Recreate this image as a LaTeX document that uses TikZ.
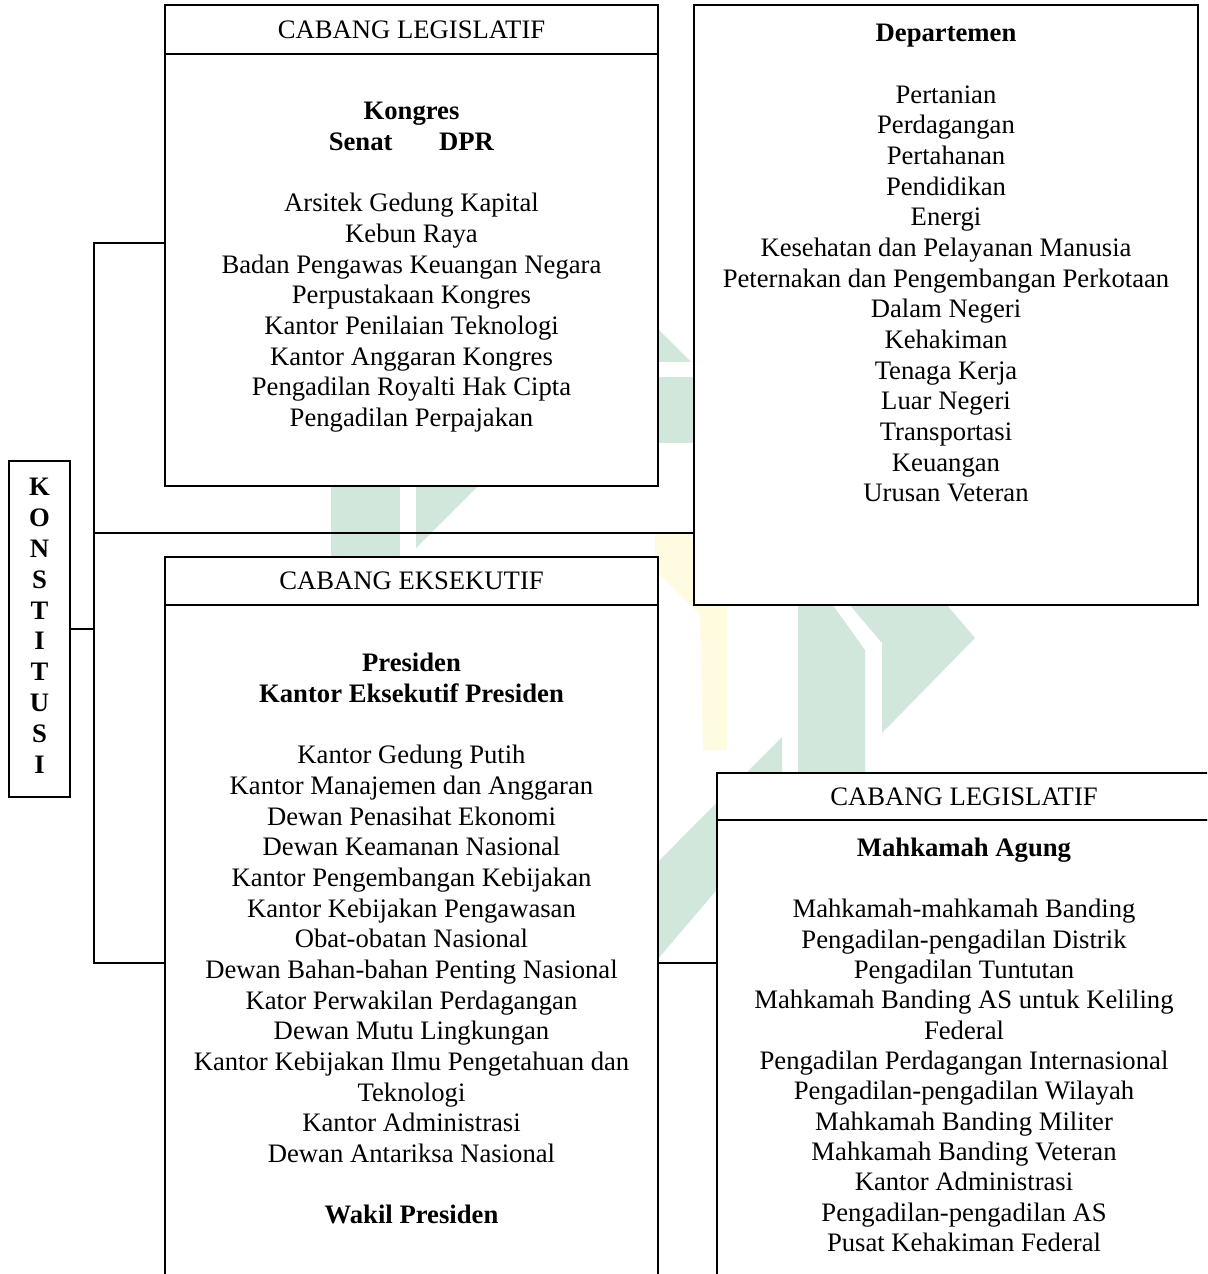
\documentclass[tikz,border=0pt]{standalone}
\usepackage{fontspec}
\setmainfont{Liberation Serif}
\usetikzlibrary{fit}
\definecolor{wmgreen}{RGB}{210,231,220}
\definecolor{wmyellow}{RGB}{255,251,224}
\begin{document}
\begin{tikzpicture}[x=0.45pt,y=-0.45pt,
  frame/.style={draw, line width=0.9pt, fill=white, inner sep=0pt},
  txt/.style={align=center, inner sep=0pt, anchor=north,
              font=\fontsize{12}{13.8}\selectfont},
  hdrtxt/.style={inner sep=0pt, anchor=center,
              font=\fontsize{12}{13.8}\selectfont},
  wire/.style={line width=0.9pt},
  wmg/.style={fill=wmgreen, draw=none},
  wmy/.style={fill=wmyellow, draw=none}]
\clip (0,0) rectangle (1207,1274);
\fill[white] (0,0) rectangle (1207,1274);

% faint background emblem
\path[wmg] (331,470) -- (400,470) -- (400,570) -- (331,570) -- cycle;
\path[wmg] (416,470) -- (494,470) -- (416,548) -- cycle;
\path[wmg] (630,301) -- (691,362) -- (630,362) -- cycle;
\path[wmg] (630,377) -- (694,377) -- (694,443) -- (630,443) -- cycle;
\path[wmy] (655,533) -- (688,533) -- (727,605) -- (727,750) -- (703,750)
           -- (700,615) -- (655,570) -- cycle;
\path[wmg] (798,590) -- (822,590) -- (865,650) -- (865,780) -- (798,780) -- cycle;
\path[wmg] (837,590) -- (934,590) -- (975,638) -- (882,733) -- (882,643) -- cycle;
\path[wmg] (640,880) -- (782,737) -- (782,813) -- (640,980) -- cycle;

% trunk points
\coordinate (tTop) at (94,243);
\coordinate (tMid) at (94,533);
\coordinate (tBot) at (94,963);

% boxes
\node[frame, fit={(9,461) (70,797)}] (kons) {};

\node[frame, fit={(165,5) (658,54)}] (legHead) {};
\node[frame, fit={(165,54) (658,486)}] (legBody) {};

\node[frame, fit={(694,5) (1198,605)}] (depBox) {};

\node[frame, fit={(165,557) (658,605)}] (eksHead) {};
\node[frame, fit={(165,605) (658,1300)}] (eksBody) {};

\node[frame, fit={(717,773) (1212,820)}] (judHead) {};
\node[frame, fit={(717,820) (1212,1300)}] (judBody) {};

% connectors
\draw[wire] (kons.east) -- (kons.east -| tTop);
\draw[wire] (tTop -| legBody.west) -- (tTop) -- (tBot) -- (tBot -| eksBody.west);
\draw[wire] (tMid) -- (tMid -| depBox.west);
\draw[wire] (tBot -| eksBody.east) -- (tBot -| judBody.west);

% headings
\node[hdrtxt] (legTitle) at (legHead.center) {CABANG LEGISLATIF};
\node[hdrtxt] (eksTitle) at (eksHead.center) {CABANG EKSEKUTIF};
\node[hdrtxt] (judTitle) at (964,796.5) {CABANG LEGISLATIF};

\node[txt, font=\fontsize{12}{13.86}\selectfont\bfseries] (konsText) at (39.5,478)
  {K\\O\\N\\S\\T\\I\\T\\U\\S\\I};

% box contents
\node[txt] (legText) at (411.5,102) {%
  \textbf{Kongres}\\
  \textbf{Senat\hspace{21pt}DPR}\\[13.8pt]
  Arsitek Gedung Kapital\\
  Kebun Raya\\
  Badan Pengawas Keuangan Negara\\
  Perpustakaan Kongres\\
  Kantor Penilaian Teknologi\\
  Kantor Anggaran Kongres\\
  Pengadilan Royalti Hak Cipta\\
  Pengadilan Perpajakan};

\node[txt] (depText) at (946,24) {%
  \textbf{Departemen}\\[13.8pt]
  Pertanian\\
  Perdagangan\\
  Pertahanan\\
  Pendidikan\\
  Energi\\
  Kesehatan dan Pelayanan Manusia\\
  Peternakan dan Pengembangan Perkotaan\\
  Dalam Negeri\\
  Kehakiman\\
  Tenaga Kerja\\
  Luar Negeri\\
  Transportasi\\
  Keuangan\\
  Urusan Veteran};

\node[txt] (eksText) at (411.5,653) {%
  \textbf{Presiden}\\
  \textbf{Kantor Eksekutif Presiden}\\[13.8pt]
  Kantor Gedung Putih\\
  Kantor Manajemen dan Anggaran\\
  Dewan Penasihat Ekonomi\\
  Dewan Keamanan Nasional\\
  Kantor Pengembangan Kebijakan\\
  Kantor Kebijakan Pengawasan\\
  Obat-obatan Nasional\\
  Dewan Bahan-bahan Penting Nasional\\
  Kator Perwakilan Perdagangan\\
  Dewan Mutu Lingkungan\\
  Kantor Kebijakan Ilmu Pengetahuan dan\\
  Teknologi\\
  Kantor Administrasi\\
  Dewan Antariksa Nasional\\[13.8pt]
  \textbf{Wakil Presiden}};

\node[txt, font=\fontsize{12}{13.65}\selectfont] (judText) at (964,838) {%
  \textbf{Mahkamah Agung}\\[13.8pt]
  Mahkamah-mahkamah Banding\\
  Pengadilan-pengadilan Distrik\\
  Pengadilan Tuntutan\\
  Mahkamah Banding AS untuk Keliling\\
  Federal\\
  Pengadilan Perdagangan Internasional\\
  Pengadilan-pengadilan Wilayah\\
  Mahkamah Banding Militer\\
  Mahkamah Banding Veteran\\
  Kantor Administrasi\\
  Pengadilan-pengadilan AS\\
  Pusat Kehakiman Federal};
\end{tikzpicture}
\end{document}
